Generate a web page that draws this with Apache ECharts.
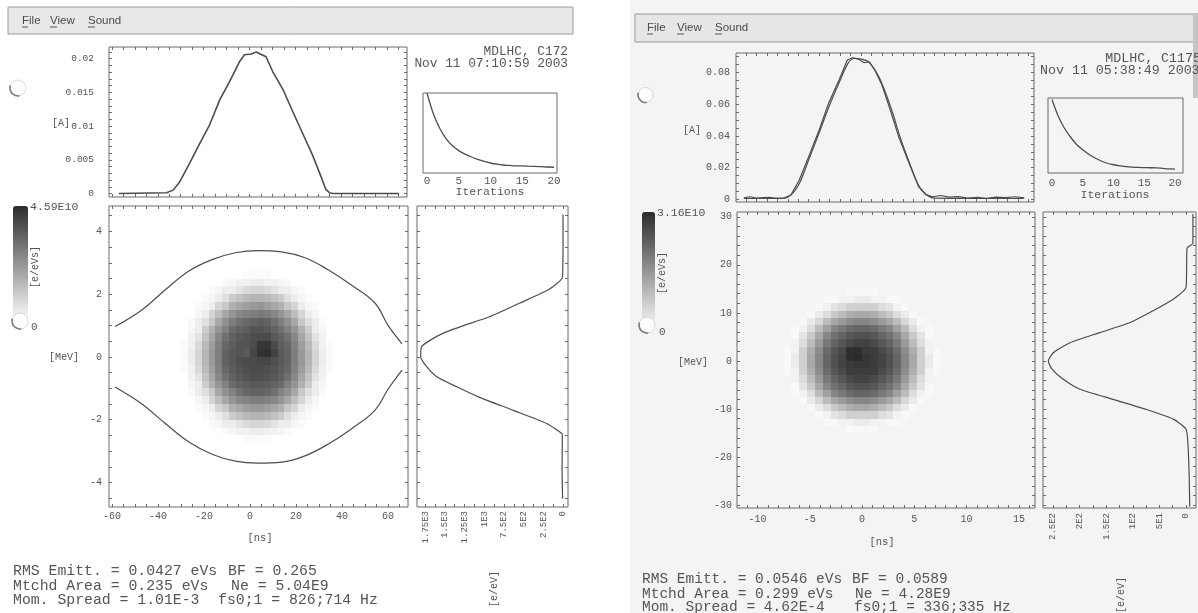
<!DOCTYPE html>
<html><head><meta charset="utf-8">
<script src="https://cdn.jsdelivr.net/npm/echarts@6/dist/echarts.min.js"></script>
<style>html,body{margin:0;padding:0;background:#fff}#c{width:1198px;height:613px}</style>
</head><body><div id="c"></div>
<script>
// ================= DATA =================
// ---- left panel (C172) ----
const leftProfileNs = [-57, -36.2, -33.3, -30.4, -26.1, -21.7, -17.4, -13.0, -8.7, -4.3, -2.2, 0.7, 2.9, 7.2, 10.1, 14.5, 18.8, 23.2, 27.5, 31.2, 33.3, 35, 36.2, 65.2];
const leftProfileA  = [0, 0.0001, 0.0005, 0.00175, 0.0045, 0.00745, 0.0102, 0.0139, 0.0166, 0.0196, 0.0206, 0.0207, 0.0210, 0.0203, 0.0181, 0.0155, 0.0122, 0.0089, 0.0057, 0.0025, 0.0006, 0.0001, 0, 0];
const leftSepNs    = [-58.7, -47, -36.8, -26.7, -16.5, -6.4, 3.7, 13.8, 23.9, 33.9, 43.9, 54.3, 60.1, 66.1];
const leftSepUpper = [0.97, 1.50, 2.14, 2.73, 3.10, 3.32, 3.39, 3.35, 3.16, 2.78, 2.30, 1.72, 1.00, 0.42];
const leftSepLower = [-0.96, -1.50, -2.12, -2.70, -3.10, -3.32, -3.38, -3.35, -3.15, -2.78, -2.30, -1.70, -1.02, -0.42];
const leftProjMeV  = [4.54, 3.6, 2.9, 2.52, 2.14, 1.72, 1.29, 0.76, 0.33, 0.01, -0.31, -0.63, -0.95, -1.27, -1.70, -2.12, -2.44, -2.55, -3.5, -4.52];
const leftProjVal  = [0, 0, 2, 10, 186, 546, 926, 1519, 1794, 1806, 1730, 1603, 1349, 1074, 630, 207, 16, 8, 12, 5];
const leftIter     = [0,1,2,3,4,5,6,7,8,9,10,11,12,13,14,15,16,17,18,19,20];
const leftIterVal  = [1.0, 0.74, 0.56, 0.43, 0.34, 0.28, 0.235, 0.2, 0.17, 0.145, 0.125, 0.11, 0.1, 0.095, 0.09, 0.088, 0.085, 0.083, 0.08, 0.075, 0.072];
// phase-space density, units of 1E9 e/eVs; columns = ns centres, rows = MeV centres (top to bottom)
const leftCellNs  = [-28.5,-25.5,-22.5,-19.5,-16.5,-13.5,-10.5,-7.5,-4.5,-1.5,1.5,4.5,7.5,10.5,13.5,16.5,19.5,22.5,25.5,28.5,31.5,34.5];
const leftCellMeV = [2.625,2.375,2.125,1.875,1.625,1.375,1.125,0.875,0.625,0.375,0.125,-0.125,-0.375,-0.625,-0.875,-1.125,-1.375,-1.625,-1.875,-2.125,-2.375,-2.625];
const leftDensity = [
 [0,0,0,0,0,0,0,0,0,1,1,1,1,0,0,0,0,0,0,0,0,0],
 [0,0,0,0,0,0,1,2,3,3,4,4,3,3,2,1,0,0,0,0,0,0],
 [0,0,0,0,1,2,4,4,6,8,9,9,8,6,4,4,2,1,0,0,0,0],
 [0,0,0,1,2,4,7,11,13,15,16,16,15,13,11,7,4,2,1,0,0,0],
 [0,0,1,2,4,9,12,17,19,21,22,23,21,19,17,12,9,4,2,1,0,0],
 [0,0,2,4,9,14,19,23,26,27,28,29,28,26,23,19,14,9,4,2,0,0],
 [0,1,4,7,12,19,24,28,31,33,34,35,34,31,28,24,19,12,7,4,1,0],
 [0,2,4,11,17,23,27,32,34,35,37,37,36,34,31,27,23,17,11,4,2,0],
 [0,3,6,13,19,26,31,34,36,37,38,39,39,36,34,31,26,19,13,6,3,0],
 [1,3,8,15,21,27,33,35,37,37,39,43,44,39,35,33,27,21,15,8,3,1],
 [1,4,9,16,22,28,34,36,37,36,40,44,45,41,36,34,28,22,16,9,4,1],
 [1,4,9,16,22,28,34,36,38,39,39,40,40,38,36,34,28,22,16,9,4,1],
 [1,3,8,15,21,27,33,35,37,38,39,39,38,37,35,33,27,21,15,8,3,1],
 [0,3,6,13,19,26,31,34,36,37,38,38,37,36,34,31,26,19,13,6,3,0],
 [0,2,4,11,17,23,27,32,34,35,36,36,35,34,32,27,23,17,11,4,2,0],
 [0,1,4,7,12,19,24,27,31,33,34,34,33,31,27,24,19,12,7,4,1,0],
 [0,0,2,4,9,14,19,23,26,27,28,28,27,26,23,19,14,9,4,2,0,0],
 [0,0,1,2,4,9,12,17,19,21,22,22,21,19,17,12,9,4,2,1,0,0],
 [0,0,0,1,2,4,7,11,13,15,16,16,15,13,11,7,4,2,1,0,0,0],
 [0,0,0,0,1,2,4,4,6,8,9,9,8,6,4,4,2,1,0,0,0,0],
 [0,0,0,0,0,0,1,2,3,3,4,4,3,3,2,1,0,0,0,0,0,0],
 [0,0,0,0,0,0,0,0,0,1,1,1,1,0,0,0,0,0,0,0,0,0]
];
// ---- right panel (C1175) ----
const rightProfNs   = [-11.2,-10.6,-10.0,-9.4,-8.8,-8.2,-7.4,-6.7,-5.9,-5.0,-4.0,-3.1,-2.1,-1.3,-0.8,-0.2,0.3,0.8,1.4,2.0,2.7,3.6,4.6,5.5,6.2,6.8,7.6,8.4,9.3,10.2,11.1,12.0,12.9,13.8,14.7,15.6];
const rightProfMeas = [0.0009,0.0016,0.0008,0.0010,0.0012,0.0007,0.0008,0.0027,0.0122,0.0269,0.0437,0.0606,0.0753,0.0879,0.0893,0.0883,0.0862,0.0868,0.0805,0.0721,0.0584,0.0395,0.0227,0.0080,0.0032,0.0016,0.0024,0.0014,0.0017,0.0008,0.0013,0.0006,0.0014,0.0011,0.0016,0.0009];
const rightRecNs    = [-11.2,-7.6,-7.0,-6.4,-5.8,-5.0,-4.0,-3.0,-2.0,-1.2,-0.6,0.0,0.6,1.2,1.8,2.5,3.1,3.7,4.6,5.5,6.2,7.0,15.6];
const rightProfRec  = [0.0005,0.0005,0.0013,0.0048,0.0112,0.0250,0.0420,0.0595,0.0750,0.0862,0.0890,0.0885,0.0872,0.0830,0.0760,0.0645,0.0530,0.0400,0.0235,0.0088,0.0030,0.0008,0.0005];
const rightProjMeV  = [30.6,24.5,23.5,18,15.3,12.85,10.1,8.0,5.9,3.8,1.75,0,-1.7,-3.8,-5.9,-8.0,-10.1,-12.1,-14.2,-18,-24,-30.3];
const rightProjVal  = [-13,-13,-2,-1,0,24,68,105,162,218,249,259,252,231,199,137,74,24,0,-4,-6,-7];
const rightIter     = [0,1,2,3,4,5,6,7,8,9,10,11,12,13,14,15,16,17,18,19,20];
const rightIterVal  = [0.98,0.76,0.6,0.48,0.38,0.31,0.25,0.2,0.16,0.13,0.11,0.095,0.085,0.078,0.074,0.072,0.07,0.069,0.062,0.055,0.052];
const rightCellNs  = [-7.875,-7.125,-6.375,-5.625,-4.875,-4.125,-3.375,-2.625,-1.875,-1.125,-0.375,0.375,1.125,1.875,2.625,3.375,4.125,4.875,5.625,6.375,7.125,7.875];
const rightCellMeV = [15.75,14.25,12.75,11.25,9.75,8.25,6.75,5.25,3.75,2.25,0.75,-0.75,-2.25,-3.75,-5.25,-6.75,-8.25,-9.75,-11.25,-12.75,-14.25,-15.75];
const rightDensity = [
 [0,0,0,0,0,0,0,0,0,0,0,0,0,0,0,0,0,0,0,0,0,0],
 [0,0,0,0,0,0,0,0,0,1,1,1,1,0,0,0,0,0,0,0,0,0],
 [0,0,0,0,0,0,1,1,2,2,3,3,2,2,1,1,0,0,0,0,0,0],
 [0,0,0,0,0,1,2,4,5,7,7,7,7,5,4,2,1,0,0,0,0,0],
 [0,0,0,0,1,3,5,8,10,12,13,13,12,10,8,5,3,1,0,0,0,0],
 [0,0,0,1,3,6,10,13,15,17,18,18,17,15,13,10,6,3,1,0,0,0],
 [0,0,1,2,5,10,14,18,20,22,23,23,22,20,18,14,10,5,2,1,0,0],
 [0,0,1,4,8,13,18,21,23,25,26,26,25,23,21,18,13,8,4,1,0,0],
 [0,0,2,5,10,15,20,23,25,27,28,28,27,25,23,20,15,10,5,2,0,0],
 [0,1,2,7,12,17,22,25,27,31,31,29,29,27,25,22,17,12,7,2,1,0],
 [0,1,3,7,13,18,23,26,28,31,32,30,29,28,26,23,18,13,7,3,1,0],
 [0,1,3,7,13,18,23,26,28,29,30,30,29,28,26,23,18,13,7,3,1,0],
 [0,1,2,7,12,17,22,25,27,29,29,29,29,27,25,22,17,12,7,2,1,0],
 [0,0,2,5,10,15,20,23,25,27,28,28,27,25,23,20,15,10,5,2,0,0],
 [0,0,1,4,8,13,18,21,23,25,26,26,25,23,21,18,13,8,4,1,0,0],
 [0,0,1,2,5,10,14,18,20,22,23,23,22,20,18,14,10,5,2,1,0,0],
 [0,0,0,1,3,6,10,13,15,17,18,18,17,15,13,10,6,3,1,0,0,0],
 [0,0,0,0,1,3,5,8,10,12,13,13,12,10,8,5,3,1,0,0,0,0],
 [0,0,0,0,0,1,2,4,5,7,7,7,7,5,4,2,1,0,0,0,0,0],
 [0,0,0,0,0,0,1,1,2,2,3,3,2,2,1,1,0,0,0,0,0,0],
 [0,0,0,0,0,0,0,0,0,1,1,1,1,0,0,0,0,0,0,0,0,0],
 [0,0,0,0,0,0,0,0,0,0,0,0,0,0,0,0,0,0,0,0,0,0]
];
// ---- tick labels ----
const leftNsTicks = [-60,-40,-20,0,20,40,60];
const leftNsLabels = ['-60','-40','-20','0','20','40','60'];
const leftATicks = [0,0.005,0.01,0.015,0.02];
const leftALabels = ['0','0.005','0.01','0.015','0.02'];
const leftMeVTicks = [-4,-2,0,2,4];
const leftMeVLabels = ['-4','-2','0','2','4'];
const leftProjTicks = [0,250,500,750,1000,1250,1500,1750];
const leftProjLabels = ['0','2.5E2','5E2','7.5E2','1E3','1.25E3','1.5E3','1.75E3'];
const rightNsTicks = [-10,-5,0,5,10,15];
const rightNsLabels = ['-10','-5','0','5','10','15'];
const rightATicks = [0,0.02,0.04,0.06,0.08];
const rightALabels = ['0','0.02','0.04','0.06','0.08'];
const rightMeVTicks = [-30,-20,-10,0,10,20,30];
const rightMeVLabels = ['-30','-20','-10','0','10','20','30'];
const rightProjTicks = [0,50,100,150,200,250];
const rightProjLabels = ['0','5E1','1E2','1.5E2','2E2','2.5E2'];
const iterTicks = [0,5,10,15,20];
const iterLabels = ['0','5','10','15','20'];

// ================= CHART =================
const MONO = '"Liberation Mono","DejaVu Sans Mono",monospace';
const TXT = '#555';
const LINEC = '#4d4d4d';
function seq(a, b, s){ const r=[]; for(let v=a; v<=b+s*1e-6; v+=s) r.push(+v.toFixed(6)); return r; }
function fmt(vals, labs){ return v => { for (let k=0;k<vals.length;k++) if (Math.abs(vals[k]-v)<1e-9) return labs[k]; return ''; }; }
const grids=[], xAxes=[], yAxes=[];
function axis(gi, pos, o, primary){
  const a = {gridIndex:gi, type:'value', position:pos, min:o.min, max:o.max, inverse:!!o.inverse,
    axisLine:{show:false, onZero:false}, splitLine:{show:false}, splitArea:{show:false}, minorTick:{show:false},
    axisTick: o.ticks ? {show:true, inside:true, length:3, customValues:o.ticks, lineStyle:{color:'#6a6a6a', width:1}} : {show:false},
    axisLabel:{show:false}, axisPointer:{show:false}};
  if (primary && o.labVals) a.axisLabel = {show:true, customValues:o.labVals, formatter:fmt(o.labVals,o.labs),
    color:TXT, fontFamily:MONO, fontSize:o.fs||10, margin:o.margin, rotate:o.rotate||0, hideOverlap:false, showMinLabel:true, showMaxLabel:true};
  return a;
}
function addGrid(r, xo, yo){
  const gi = grids.length;
  grids.push({left:r[0], top:r[1], width:r[2], height:r[3], show:true, borderColor:'#6a6a6a', borderWidth:1,
    backgroundColor:'rgba(0,0,0,0)', containLabel:false, outerBoundsMode:'none'});
  const xi = xAxes.length, yi = yAxes.length;
  xAxes.push(axis(gi,'bottom',xo,true), axis(gi,'top',xo,false));
  yAxes.push(axis(gi,'left',yo,true), axis(gi,'right',yo,false));
  return {xi, yi};
}
// left panel grids
const gLT = addGrid([109,47,298,150], {min:-61.3,max:68.7,ticks:seq(-60,65,5)}, {min:-0.00052,max:0.02174,ticks:seq(0,0.021,0.001),labVals:leftATicks,labs:leftALabels,fs:9.5,margin:15});
const gLH = addGrid([109,206,299,301], {min:-61.3,max:68.7,ticks:seq(-60,65,5),labVals:leftNsTicks,labs:leftNsLabels,fs:10,margin:4}, {min:-4.78,max:4.81,ticks:seq(-4.5,4.5,0.5),labVals:leftMeVTicks,labs:leftMeVLabels,fs:10,margin:7});
const gLP = addGrid([417,206,151,301], {min:-63.5,max:1853,inverse:true,ticks:seq(0,1750,125),labVals:leftProjTicks,labs:leftProjLabels,fs:9,margin:4,rotate:90}, {min:-4.78,max:4.81,ticks:seq(-4.5,4.5,0.5)});
const gLI = addGrid([423,93,134,80], {min:-0.63,max:20.47,labVals:iterTicks,labs:iterLabels,fs:11,margin:3}, {min:0,max:1});
// right panel grids
const gRT = addGrid([736,53,298,149], {min:-11.95,max:16.54,ticks:seq(-11,16,1)}, {min:-0.0017,max:0.0923,ticks:seq(0,0.09,0.005),labVals:rightATicks,labs:rightALabels,fs:10,margin:6});
const gRH = addGrid([737,212,298,296], {min:-11.95,max:16.54,ticks:seq(-11,16,1),labVals:rightNsTicks,labs:rightNsLabels,fs:10,margin:6}, {min:-30.6,max:31.0,ticks:seq(-30,30,2),labVals:rightMeVTicks,labs:rightMeVLabels,fs:10,margin:5});
const gRP = addGrid([1043,212,153,296], {min:-18.8,max:269,inverse:true,ticks:seq(0,250,25),labVals:rightProjTicks,labs:rightProjLabels,fs:9,margin:5,rotate:90}, {min:-30.6,max:31.0,ticks:seq(-30,30,2)});
const gRI = addGrid([1048,98,135,75], {min:-0.65,max:21.3,labVals:iterTicks,labs:iterLabels,fs:11,margin:5}, {min:0,max:1});

function line(ax, xs, ys, w, smooth, color){
  return {type:'line', xAxisIndex:ax.xi, yAxisIndex:ax.yi, data:xs.map((x,i)=>[x,ys[i]]), symbol:'none', showSymbol:false,
    smooth:smooth||false, lineStyle:{color:color||LINEC, width:w||1.3}, silent:true, z:5};
}
function cells(ax, xs, ys, rows){
  const dx = Math.abs(xs[1]-xs[0]), dy = Math.abs(ys[1]-ys[0]);
  const data=[];
  rows.forEach((row,i)=>row.forEach((v,j)=>{ if (v>0) data.push([xs[j], ys[i], v]); }));
  return {type:'custom', xAxisIndex:ax.xi, yAxisIndex:ax.yi, data, silent:true, z:2, encode:{x:0,y:1},
    renderItem:(p, api)=>{
      const x=api.value(0), y=api.value(1);
      const a=api.coord([x-dx/2, y+dy/2]), b=api.coord([x+dx/2, y-dy/2]);
      const x0=Math.round(Math.min(a[0],b[0])), x1=Math.round(Math.max(a[0],b[0]));
      const y0=Math.round(Math.min(a[1],b[1])), y1=Math.round(Math.max(a[1],b[1]));
      return {type:'rect', shape:{x:x0,y:y0,width:x1-x0,height:y1-y0}, style:{fill:api.visual('color')}};
    }};
}
const series = [
  cells(gLH, leftCellNs, leftCellMeV, leftDensity),          // 0
  cells(gRH, rightCellNs, rightCellMeV, rightDensity),       // 1
  line(gLT, leftProfileNs, leftProfileA, 1.6),
  line(gLH, leftSepNs, leftSepUpper, 1.2, 0.4),
  line(gLH, leftSepNs, leftSepLower, 1.2, 0.4),
  line(gLP, leftProjVal, leftProjMeV, 1.2, 0.2),
  line(gLI, leftIter, leftIterVal, 1.3, 0.3),
  line(gRT, rightRecNs, rightProfRec, 1.2, 0.3),
  line(gRT, rightProfNs, rightProfMeas, 1.2),
  line(gRP, rightProjVal, rightProjMeV, 1.2, 0.2),
  line(gRI, rightIter, rightIterVal, 1.3, 0.3)
];

function txt(x, y, s, size, align, extra){
  return Object.assign({type:'text', x:x, y:y, silent:true, z:50,
    style:{text:s, fill:TXT, font:size+'px '+MONO, align:align||'left', textAlign:align||'left', verticalAlign:'middle', textVerticalAlign:'middle'}}, extra||{});
}
function sans(x, y, s){
  return {type:'text', x:x, y:y, silent:true, z:50, style:{text:s, fill:'#4a4a4a', font:'11.5px "Liberation Sans",Arial,sans-serif', align:'left', textAlign:'left', verticalAlign:'middle', textVerticalAlign:'middle'}};
}
function uline(x1, x2, y){ return {type:'line', silent:true, z:50, shape:{x1:x1,y1:y,x2:x2,y2:y}, style:{stroke:'#555', lineWidth:1}}; }
function ball(cx, cy, r){
  return [
    {type:'circle', silent:true, z:60, shape:{cx:cx,cy:cy,r:r}, style:{fill:'#fdfdfd', stroke:'rgba(150,150,150,0.35)', lineWidth:1}},
    {type:'arc', silent:true, z:61, shape:{cx:cx,cy:cy,r:r,startAngle:Math.PI*0.45,endAngle:Math.PI*1.1}, style:{stroke:'#7a7a7a', lineWidth:1.6, fill:null}}
  ];
}
const ROT = Math.PI/2;
const graphic = [
  {type:'rect', silent:true, z:-100, shape:{x:630,y:0,width:570,height:613}, style:{fill:'#f4f4f4'}},
  // menu bars
  {type:'rect', silent:true, z:40, shape:{x:8,y:7,width:565,height:27}, style:{fill:'#e8e8e8', stroke:'#9c9c9c', lineWidth:1}},
  {type:'rect', silent:true, z:40, shape:{x:635,y:14,width:570,height:28}, style:{fill:'#e6e6e6', stroke:'#9c9c9c', lineWidth:1}},
  {type:'rect', silent:true, z:41, shape:{x:1193,y:13,width:6,height:85}, style:{fill:'#c4c4c4'}},
  sans(22,21,'File'), sans(50,21,'View'), sans(88,21,'Sound'),
  uline(22,28,27), uline(50,57,27), uline(88,95,27),
  sans(647,28,'File'), sans(677,28,'View'), sans(715,28,'Sound'),
  uline(647,653,34), uline(677,684,34), uline(715,722,34),
  // left panel texts
  txt(568,52,'MDLHC, C172',12.8,'right'),
  txt(568,64,'Nov 11 07:10:59 2003',12.8,'right'),
  txt(61,123,'[A]',10,'center'),
  txt(64,357,'[MeV]',10,'center'),
  txt(260,538,'[ns]',10.5,'center'),
  txt(494,589,'[e/eV]',10,'center',{rotation:ROT}),
  txt(490,192,'Iterations',11.5,'center'),
  txt(30,207,'4.59E10',11.5,'left'),
  txt(31,327,'0',11,'left'),
  txt(35,267,'[e/eVs]',10,'center',{rotation:ROT}),
  txt(13,571,'RMS Emitt. = 0.0427 eVs',14.8,'left'),
  txt(228,571,'BF = 0.265',14.8,'left'),
  txt(13,586,'Mtchd Area = 0.235 eVs',14.8,'left'),
  txt(231,586,'Ne = 5.04E9',14.8,'left'),
  txt(13,600,'Mom. Spread = 1.01E-3',14.8,'left'),
  txt(218,600,'fs0;1 = 826;714 Hz',14.8,'left'),
  // right panel texts
  txt(1201,58,'MDLHC, C1175',13.3,'right'),
  txt(1040,70,'Nov 11 05:38:49 2003',13.3,'left'),
  txt(692,130,'[A]',10,'center'),
  txt(693,362,'[MeV]',10,'center'),
  txt(882,542,'[ns]',10.5,'center'),
  txt(1121,595,'[e/eV]',10,'center',{rotation:ROT}),
  txt(1115,195,'Iterations',11.5,'center'),
  txt(657,212.5,'3.16E10',11.5,'left'),
  txt(659,332,'0',11,'left'),
  txt(662,273,'[e/eVs]',10,'center',{rotation:ROT}),
  txt(642,579.5,'RMS Emitt. = 0.0546 eVs',14.5,'left'),
  txt(852,579.5,'BF = 0.0589',14.5,'left'),
  txt(642,593.7,'Mtchd Area = 0.299 eVs',14.5,'left'),
  txt(855,593.7,'Ne = 4.28E9',14.5,'left'),
  txt(642,607.4,'Mom. Spread = 4.62E-4',14.5,'left'),
  txt(854,607.4,'fs0;1 = 336;335 Hz',14.5,'left')
].concat(ball(18,88,8), ball(20,321,8), ball(645.5,95,7.5), ball(647,325,8));

const option = {
  animation:false,
  backgroundColor:'#ffffff',
  textStyle:{fontFamily:MONO},
  grid:grids, xAxis:xAxes, yAxis:yAxes,
  visualMap:[
    {type:'continuous', seriesIndex:0, dimension:2, min:0, max:45.9, inRange:{color:['#ffffff','#2b2b2b']},
     left:13, top:206, itemWidth:15, itemHeight:116, padding:0, calculable:false, hoverLink:false, realtime:false, orient:'vertical'},
    {type:'continuous', seriesIndex:1, dimension:2, min:0, max:31.6, inRange:{color:['#ffffff','#2b2b2b']},
     left:642, top:212, itemWidth:13, itemHeight:119, padding:0, calculable:false, hoverLink:false, realtime:false, orient:'vertical'}
  ],
  series:series,
  graphic:{elements:graphic}
};
const chart = echarts.init(document.getElementById('c'), null, {renderer:'canvas', width:1198, height:613});
chart.setOption(option);
</script>
</body></html>
